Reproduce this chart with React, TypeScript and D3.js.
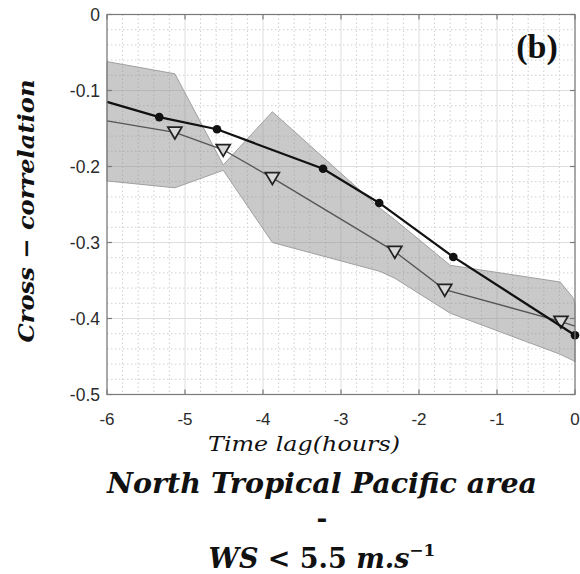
import React from "react";
import * as d3 from "d3";

const xTicks = [-6, -5, -4, -3, -2, -1, 0];
const yTicks = [0, -0.1, -0.2, -0.3, -0.4, -0.5];
const yTickLabels = ["0", "-0.1", "-0.2", "-0.3", "-0.4", "-0.5"];

// Black line (filled circles); first point has no marker
const blackX = [-6, -5.33, -4.59, -3.23, -2.51, -1.56, 0];
const blackY = [-0.115, -0.135, -0.151, -0.203, -0.248, -0.319, -0.422];
const blackMarker = [false, true, true, true, true, true, true];

// Grey line (open down triangles); first and last points have no marker
const triX = [-6, -5.13, -4.51, -3.88, -2.31, -1.67, -0.18, 0];
const triY = [-0.14, -0.155, -0.178, -0.215, -0.312, -0.362, -0.404, -0.41];
const triMarker = [false, true, true, true, true, true, true, false];

// Shaded band: two edges (they cross near -4.5)
const bandX = [-6, -5.13, -4.51, -3.88, -2.5, -2.31, -1.6, -0.19, -0.03, 0];
const bandA = [-0.062, -0.078, -0.198, -0.128, -0.255, -0.27, -0.33, -0.352, -0.372, -0.38];
const bandB = [-0.219, -0.228, -0.205, -0.3, -0.338, -0.347, -0.393, -0.447, -0.455, -0.457];

const W = 580;
const H = 574;

export default function App() {
  const left = 107, right = 575, top = 14.5, bottom = 394.5;
  const x = d3.scaleLinear().domain([-6, 0]).range([left, right]);
  const y = d3.scaleLinear().domain([0, -0.5]).range([top, bottom]);

  const minorX: number[] = [];
  for (let i = 0; i <= 30; i++) { if (i % 5 !== 0) minorX.push(-6 + i * 0.2); }
  const minorY: number[] = [];
  for (let i = 0; i <= 25; i++) { if (i % 5 !== 0) minorY.push(-i * 0.02); }

  const bandPts: [number, number][] = [
    ...bandX.map((v, i) => [x(v), y(bandA[i])] as [number, number]),
    ...bandX.map((v, i) => [x(v), y(bandB[i])] as [number, number]).reverse(),
  ];
  const bandPath = "M" + bandPts.map((p) => p.join(",")).join("L") + "Z";

  const line = d3.line<[number, number]>().x((d) => x(d[0])).y((d) => y(d[1]));
  const blackPath = line(blackX.map((v, i) => [v, blackY[i]]));
  const triPath = line(triX.map((v, i) => [v, triY[i]]));

  const tri = (cx: number, cy: number) => {
    const s = 7;
    return `M${cx - s},${cy - s * 0.75}L${cx + s},${cy - s * 0.75}L${cx},${cy + s * 0.95}Z`;
  };

  const axisColor = "#7a7a7a";
  const tickLen = 5;
  const serif = "DejaVu Serif, serif";

  return (
    <svg width={W} height={H} style={{ position: "absolute", left: 0, top: 0, background: "#fff" }}>
      <rect x={0} y={0} width={W} height={H} fill="#fff" />
      {/* minor grid */}
      {minorX.map((v) => (
        <line key={"mx" + v} x1={x(v)} x2={x(v)} y1={top} y2={bottom} stroke="#cfcfcf" strokeWidth={1} strokeDasharray="1.5,2.5" />
      ))}
      {minorY.map((v) => (
        <line key={"my" + v} x1={left} x2={right} y1={y(v)} y2={y(v)} stroke="#cfcfcf" strokeWidth={1} strokeDasharray="1.5,2.5" />
      ))}
      {/* major grid */}
      {xTicks.map((v) => (
        <line key={"gx" + v} x1={x(v)} x2={x(v)} y1={top} y2={bottom} stroke="#dedede" strokeWidth={1} />
      ))}
      {yTicks.map((v) => (
        <line key={"gy" + v} x1={left} x2={right} y1={y(v)} y2={y(v)} stroke="#dedede" strokeWidth={1} />
      ))}
      {/* band */}
      <path d={bandPath} fill="#8c8c8c" fillOpacity={0.47} stroke="#a0a0a0" strokeWidth={1} />
      {/* triangle line */}
      <path d={triPath!} fill="none" stroke="#555" strokeWidth={1.3} />
      {triX.map((v, i) =>
        triMarker[i] ? (
          <path key={"t" + i} d={tri(x(v), y(triY[i]))} fill="#d8d8d8" stroke="#222" strokeWidth={1.7} />
        ) : null
      )}
      {/* black line */}
      <path d={blackPath!} fill="none" stroke="#111" strokeWidth={2.2} />
      {blackX.map((v, i) =>
        blackMarker[i] ? <circle key={"c" + i} cx={x(v)} cy={y(blackY[i])} r={4.3} fill="#111" /> : null
      )}
      {/* frame */}
      <rect x={left} y={top} width={right - left} height={bottom - top} fill="none" stroke={axisColor} strokeWidth={1.2} />
      {xTicks.map((v) => (
        <g key={"tx" + v}>
          <line x1={x(v)} x2={x(v)} y1={bottom} y2={bottom - tickLen} stroke={axisColor} strokeWidth={1.2} />
          <line x1={x(v)} x2={x(v)} y1={top} y2={top + tickLen} stroke={axisColor} strokeWidth={1.2} />
          <text x={x(v)} y={424.5} textAnchor="middle" fontFamily="Liberation Sans, Arial, sans-serif" fontSize={17} fill="#2b2b2b">
            {String(v)}
          </text>
        </g>
      ))}
      {yTicks.map((v, i) => (
        <g key={"ty" + v}>
          <line x1={left} x2={left + tickLen} y1={y(v)} y2={y(v)} stroke={axisColor} strokeWidth={1.2} />
          <line x1={right} x2={right - tickLen} y1={y(v)} y2={y(v)} stroke={axisColor} strokeWidth={1.2} />
          <text x={100} y={y(v) + 6.5} textAnchor="end" fontFamily="Liberation Sans, Arial, sans-serif" fontSize={17.5} fill="#2b2b2b">
            {yTickLabels[i]}
          </text>
        </g>
      ))}
      {/* panel label */}
      <text x={537} y={58} textAnchor="middle" fontFamily="Liberation Serif, serif" fontWeight="bold" fontSize={34} fill="#111">
        (b)
      </text>
      {/* y label */}
      <text
        transform="translate(34,211) rotate(-90)"
        textAnchor="middle"
        fontFamily={serif}
        fontStyle="italic"
        fontWeight="bold"
        fontSize={23}
        textLength={263}
        lengthAdjust="spacingAndGlyphs"
        fill="#111"
      >
        Cross − correlation
      </text>
      {/* x label */}
      <text x={304} y={451} textAnchor="middle" fontFamily={serif} fontStyle="italic" fontSize={20} textLength={192} lengthAdjust="spacingAndGlyphs" fill="#111">
        Time lag(hours)
      </text>
      <text x={322} y={493} textAnchor="middle" fontFamily={serif} fontStyle="italic" fontWeight="bold" fontSize={27} textLength={430} lengthAdjust="spacingAndGlyphs" fill="#111">
        North Tropical Pacific area
      </text>
      <text x={322} y={527} textAnchor="middle" fontFamily={serif} fontWeight="bold" fontSize={26} fill="#111">
        -
      </text>
      <text x={322} y={568} textAnchor="middle" fontFamily={serif} fontWeight="bold" fontSize={27} fill="#111">
        <tspan fontStyle="italic">WS</tspan>
        <tspan> &lt; 5.5 </tspan>
        <tspan fontStyle="italic">m.s</tspan>
        <tspan fontSize={17} dy={-12}>−1</tspan>
      </text>
    </svg>
  );
}
